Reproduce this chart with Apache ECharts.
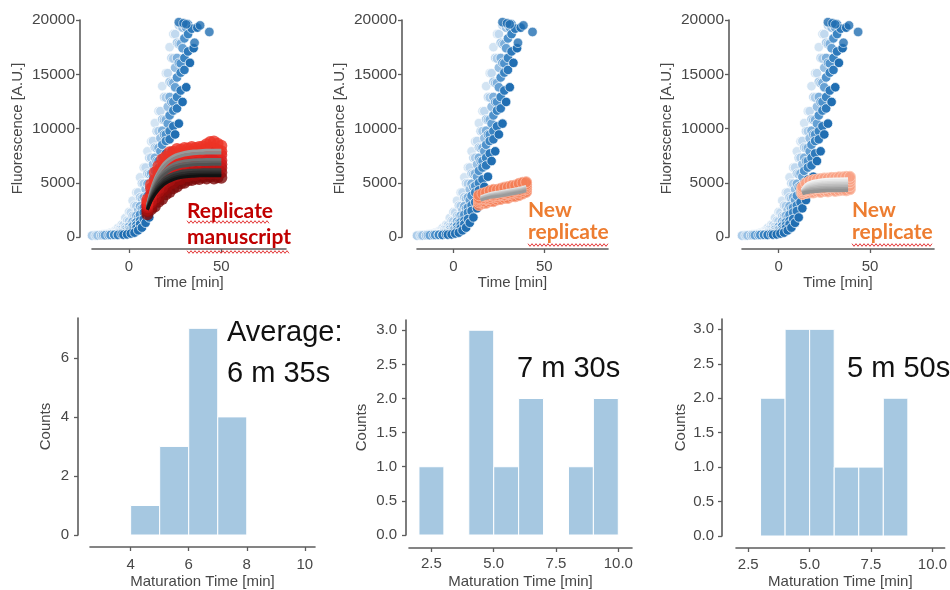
<!DOCTYPE html>
<html>
<head>
<meta charset="utf-8">
<script src="https://cdn.jsdelivr.net/npm/echarts@6/dist/echarts.min.js"></script>
<style>
  html, body { margin: 0; background: #fff; }
  #chart { width: 950px; height: 590px; }
</style>
</head>
<body>
<div id="chart"></div>
<script>
'use strict';

// ---- data ----

// reference kinetics (blue), one trace per replicate, sampled every 2 min from its start time
const blueStarts = [-20, -19, -20, -17, -14, -13, -10, -8, -6, -3];
const blueTraces = [
  [160, 150, 190, 250, 280, 400, 520, 820, 1120, 1750, 2300, 3350, 4100, 5500, 6400, 7900, 8800, 10500, 11600, 13900, 15100, 17500, 18700],
  [150, 160, 200, 220, 285, 345, 510, 700, 1090, 1500, 2250, 2900, 4100, 4950, 6400, 7300, 8850, 9750, 11600, 12900, 15100, 16500, 18700, 19500],
  [125, 135, 165, 180, 220, 250, 340, 440, 670, 930, 1450, 1950, 2850, 3650, 4900, 5850, 7300, 8250, 9750, 10850, 12850, 14300, 16450, 17900, 19600],
  [140, 150, 185, 200, 255, 300, 430, 580, 900, 1240, 1900, 2500, 3550, 4400, 5800, 6700, 8200, 9100, 10800, 12000, 14200, 15600, 17800, 19300],
  [170, 180, 225, 250, 345, 440, 665, 940, 1430, 1960, 2830, 3650, 4900, 5850, 7300, 8200, 9800, 10800, 12900, 14200, 16500, 17800, 19500],
  [160, 175, 215, 240, 320, 400, 610, 850, 1310, 1800, 2630, 3400, 4620, 5550, 7000, 7900, 9450, 10450, 12450, 13800, 16050, 17400, 19300],
  [190, 210, 270, 320, 460, 630, 990, 1360, 2060, 2700, 3800, 4700, 6100, 7000, 8500, 9450, 11200, 12450, 14700, 16000, 18300, 19600],
  [200, 220, 285, 345, 510, 700, 1090, 1500, 2250, 2920, 4100, 4980, 6400, 7300, 8850, 9750, 11650, 12900, 15150, 16500, 18700],
  [190, 245, 280, 390, 530, 800, 1170, 1650, 2400, 3200, 4300, 5300, 6600, 7700, 9000, 10200, 11850, 13500, 15400, 17100, 19200],
  [215, 240, 320, 400, 610, 860, 1310, 1800, 2640, 3400, 4620, 5560, 7000, 7900, 9450, 10450, 12450, 13800, 16050, 17400, 19300]
];
const blueExtra = [[27, 19800], [29.5, 19700], [31, 19600], [35.5, 17900], [38.5, 19500], [43.5, 18900]];
const blueColors = ['#d3e4f3', '#c1d9ef', '#adcdea', '#97bfe3', '#7eb0dc', '#66a1d4', '#4f92cc', '#3a84c2', '#2d79bb', '#206eb2'];

// replicate from the manuscript (red), t = 10..50 every 2 min
const redStart = 10;
const redTraces = [
  [2100, 2550, 2800, 3250, 3500, 3950, 4150, 4500, 4650, 4950, 5000, 5250, 5250, 5400, 5350, 5500, 5400, 5550, 5400, 5500, 5450],
  [2350, 2750, 3350, 3700, 4200, 4450, 4850, 5000, 5300, 5350, 5600, 5600, 5750, 5700, 5850, 5800, 5900, 5850, 5900, 5850, 5950],
  [2500, 3150, 3600, 4200, 4550, 5000, 5200, 5550, 5650, 5900, 5900, 6100, 6050, 6200, 6150, 6300, 6200, 6350, 6250, 6300, 6350],
  [2750, 3350, 4050, 4500, 5050, 5350, 5750, 5900, 6200, 6250, 6450, 6450, 6600, 6550, 6700, 6600, 6750, 6700, 6750, 6650, 6700],
  [2900, 3750, 4350, 5050, 5400, 5900, 6100, 6450, 6550, 6800, 6800, 7000, 6950, 7100, 7000, 7150, 7100, 7200, 7100, 7150, 7050],
  [3050, 3950, 4850, 5350, 5950, 6250, 6650, 6800, 7100, 7150, 7350, 7300, 7450, 7400, 7500, 7450, 7600, 7650, 7600, 7500, 7550],
  [3200, 4450, 5250, 6000, 6400, 6900, 7100, 7450, 7500, 7700, 7700, 7850, 7800, 7900, 7850, 8000, 8100, 8250, 8150, 8050, 7900],
  [3450, 4850, 5950, 6550, 7150, 7400, 7800, 7850, 8100, 8050, 8200, 8150, 8300, 8200, 8300, 8350, 8550, 8750, 8800, 8600, 8400]
];
const redColors = ['#7c0a0a', '#920d0d', '#a81111', '#bd1515', '#cf1a1a', '#dc1f1f', '#e5271f', '#ec3326'];
const redFitTimes = [10, 12, 14, 16, 18, 20, 23, 26, 30, 35, 40, 45, 50];
const redFits = [
  [2900, 4300, 5300, 6000, 6550, 6950, 7350, 7600, 7800, 7920, 7970, 8000, 8000],
  [2850, 4150, 5100, 5800, 6300, 6700, 7100, 7350, 7550, 7670, 7720, 7750, 7750],
  [2800, 3950, 4800, 5450, 5900, 6250, 6600, 6850, 7000, 7100, 7130, 7150, 7150],
  [2750, 3850, 4650, 5250, 5700, 6050, 6400, 6600, 6750, 6850, 6880, 6900, 6900],
  [2700, 3750, 4500, 5100, 5550, 5850, 6200, 6400, 6550, 6650, 6680, 6700, 6700],
  [2650, 3600, 4300, 4850, 5200, 5500, 5780, 5950, 6080, 6160, 6190, 6200, 6200],
  [2600, 3500, 4150, 4650, 5000, 5300, 5580, 5750, 5880, 5960, 5990, 6000, 6000],
  [2550, 3400, 4000, 4500, 4850, 5100, 5380, 5550, 5680, 5760, 5790, 5800, 5800],
  [2500, 3300, 3900, 4350, 4700, 4950, 5230, 5400, 5530, 5610, 5640, 5650, 5650]
];
const redFitColors = ['#9a9a9a', '#888888', '#727272', '#626262', '#525252', '#3e3e3e', '#2e2e2e', '#202020', '#121212'];

// new replicate, middle panel, t = 14..40 every 2 min
const newAStart = 14;
const newATraces = [
  [2950, 3100, 3150, 3300, 3300, 3450, 3500, 3600, 3600, 3750, 3750, 3850, 4000, 4150],
  [3200, 3300, 3500, 3500, 3650, 3700, 3850, 3850, 3950, 4000, 4100, 4100, 4250, 4400],
  [3350, 3550, 3550, 3700, 3800, 3850, 3950, 4050, 4050, 4150, 4250, 4300, 4450, 4550],
  [3500, 3600, 3750, 3900, 3900, 4050, 4150, 4150, 4250, 4350, 4350, 4500, 4600, 4700],
  [3600, 3800, 3850, 4050, 4100, 4150, 4200, 4300, 4400, 4400, 4550, 4650, 4700, 4850],
  [3850, 4000, 4100, 4250, 4350, 4350, 4450, 4550, 4600, 4700, 4750, 4900, 5000, 5050]
];
const newAFitTimes = [15, 20, 25, 30, 35, 40];
const newAFits = [
  [3700, 4000, 4150, 4300, 4450, 4650],
  [3600, 3900, 4050, 4200, 4350, 4550],
  [3550, 3800, 3950, 4100, 4250, 4450],
  [3450, 3700, 3850, 4000, 4150, 4350],
  [3400, 3650, 3750, 3900, 4050, 4250]
];
const newAFitColors = ['#e2e2e2', '#cbcbcb', '#b8b8b8', '#a9a9a9', '#9b9b9b'];

// new replicate, right panel, t = 13..39 every 2 min
const newBStart = 13;
const newBTraces = [
  [3950, 4050, 4100, 4100, 4200, 4150, 4250, 4200, 4300, 4250, 4300, 4350, 4300, 4400],
  [4150, 4300, 4350, 4450, 4500, 4550, 4500, 4600, 4600, 4650, 4650, 4700, 4750, 4700],
  [4300, 4500, 4650, 4700, 4800, 4800, 4850, 4900, 4900, 4950, 4950, 5000, 5000, 5050],
  [4450, 4750, 4900, 5000, 5050, 5100, 5150, 5150, 5200, 5200, 5250, 5250, 5300, 5300],
  [4600, 4950, 5150, 5250, 5300, 5350, 5400, 5400, 5450, 5450, 5500, 5500, 5550, 5550]
];
const newBFitTimes = [13, 15, 17, 20, 24, 28, 33, 38];
const newBFits = [
  [4350, 4800, 5000, 5150, 5250, 5300, 5330, 5350],
  [4300, 4700, 4880, 5020, 5110, 5160, 5180, 5200],
  [4250, 4600, 4760, 4880, 4970, 5010, 5030, 5050],
  [4200, 4500, 4640, 4750, 4830, 4870, 4890, 4900],
  [4150, 4400, 4520, 4610, 4690, 4720, 4740, 4750],
  [4100, 4300, 4400, 4480, 4540, 4570, 4590, 4600],
  [4050, 4200, 4280, 4340, 4400, 4420, 4440, 4450],
  [4000, 4100, 4160, 4210, 4260, 4280, 4290, 4300]
];
const newBFitColors = ['#f4f4f4', '#e8e8e8', '#dbdbdb', '#cecece', '#c0c0c0', '#b1b1b1', '#a2a2a2', '#939393'];

// maturation time histograms (bin start, bin end, count)
const histManuscript = [[4, 5, 1], [5, 6, 3], [6, 7, 7], [7, 8, 4]];
const histNewA = [[2, 3, 1], [4, 5, 3], [5, 6, 1], [6, 7, 2], [8, 9, 1], [9, 10, 2]];
const histNewB = [[3, 4, 2], [4, 5, 3], [5, 6, 3], [6, 7, 1], [7, 8, 1], [8, 9, 2]];

const timeTicks = [0, 50];
const fluoTicks = [0, 5000, 10000, 15000, 20000];
const countTicksA = [0, 2, 4, 6];
const countTicksB = [0, 0.5, 1, 1.5, 2, 2.5, 3];
const matTicksA = [4, 6, 8, 10];
const matTicksB = [2.5, 5, 7.5, 10];

// ---- layout ----
const font = 'Liberation Sans, Arial, sans-serif';
const axisColor = '#5c5c5c';
const labelColor = '#474747';

const grids = [
  { left: 92, top: 20, width: 194, height: 217 },
  { left: 417, top: 20, width: 191, height: 217 },
  { left: 742, top: 20, width: 192, height: 217 },
  { left: 90, top: 318, width: 225, height: 218 },
  { left: 409, top: 320, width: 223, height: 217 },
  { left: 736, top: 319, width: 211, height: 217 }
];

function makeAxis(o) {
  return {
    type: 'value',
    gridIndex: o.grid,
    min: o.min,
    max: o.max,
    offset: o.offset,
    name: o.name,
    nameLocation: 'middle',
    nameGap: o.gap,
    nameTextStyle: { color: labelColor, fontSize: 15, fontFamily: font },
    axisLine: { show: true, onZero: false, lineStyle: { color: axisColor, width: 1.6 } },
    axisTick: { show: true, length: 4, customValues: o.ticks, lineStyle: { color: axisColor, width: 1.3 } },
    axisLabel: {
      color: labelColor, fontSize: o.fontSize || 15, fontFamily: font, margin: o.margin,
      customValues: o.ticks, formatter: o.fmt
    },
    splitLine: { show: false }
  };
}

const fmt1 = v => v.toFixed(1);
const fmt0 = v => String(v);

const xAxes = [
  makeAxis({ grid: 0, min: -20, max: 85, offset: 12, name: 'Time [min]', gap: 26, margin: 10, ticks: timeTicks, fmt: fmt0 }),
  makeAxis({ grid: 1, min: -20, max: 85, offset: 12, name: 'Time [min]', gap: 26, margin: 10, ticks: timeTicks, fmt: fmt0 }),
  makeAxis({ grid: 2, min: -20, max: 85, offset: 12, name: 'Time [min]', gap: 26, margin: 10, ticks: timeTicks, fmt: fmt0 }),
  makeAxis({ grid: 3, min: 2.6, max: 10.35, offset: 12, name: 'Maturation Time [min]', gap: 27, margin: 10, ticks: matTicksA, fmt: fmt0 }),
  makeAxis({ grid: 4, min: 1.6, max: 10.55, offset: 13, name: 'Maturation Time [min]', gap: 26, margin: 8, ticks: matTicksB, fmt: fmt1 }),
  makeAxis({ grid: 5, min: 2.0, max: 10.5, offset: 12, name: 'Maturation Time [min]', gap: 26, margin: 9, ticks: matTicksB, fmt: fmt1 })
];
const yAxes = [
  makeAxis({ grid: 0, min: 0, max: 20000, offset: 12, name: 'Fluorescence [A.U.]', gap: 55, margin: 5, ticks: fluoTicks, fmt: fmt0, fontSize: 15.5 }),
  makeAxis({ grid: 1, min: 0, max: 20000, offset: 15, name: 'Fluorescence [A.U.]', gap: 55, margin: 5, ticks: fluoTicks, fmt: fmt0, fontSize: 15.5 }),
  makeAxis({ grid: 2, min: 0, max: 20000, offset: 13, name: 'Fluorescence [A.U.]', gap: 55, margin: 5, ticks: fluoTicks, fmt: fmt0, fontSize: 15.5 }),
  makeAxis({ grid: 3, min: 0, max: 7.35, offset: 12, name: 'Counts', gap: 25, margin: 9, ticks: countTicksA, fmt: fmt0 }),
  makeAxis({ grid: 4, min: 0, max: 3.15, offset: 3, name: 'Counts', gap: 37, margin: 9, ticks: countTicksB, fmt: fmt1 }),
  makeAxis({ grid: 5, min: 0, max: 3.15, offset: 14, name: 'Counts', gap: 34, margin: 8, ticks: countTicksB, fmt: fmt1 })
];

// ---- series ----
function pts(start, step, vals) {
  return vals.map((v, k) => [start + k * step, v]);
}
function pairs(times, vals) {
  return vals.map((v, k) => [times[k], v]);
}

const series = [];

[0, 1, 2].forEach(g => {
  blueTraces.forEach((vals, i) => {
    series.push({
      type: 'scatter', xAxisIndex: g, yAxisIndex: g, silent: true,
      data: pts(blueStarts[i], 2, vals), symbolSize: 9.5,
      itemStyle: { color: blueColors[i], borderColor: '#ffffff', borderWidth: 0.7, opacity: 1 }
    });
  });
  series.push({
    type: 'scatter', xAxisIndex: g, yAxisIndex: g, silent: true,
    data: blueExtra, symbolSize: 9.5,
    itemStyle: { color: blueColors[9], borderColor: '#ffffff', borderWidth: 0.7 }
  });
});

redTraces.forEach((vals, i) => {
  series.push({
    type: 'scatter', xAxisIndex: 0, yAxisIndex: 0, silent: true,
    data: pts(redStart, 2, vals), symbolSize: 12,
    itemStyle: { color: redColors[i], borderWidth: 0 }
  });
});
redFits.forEach((vals, i) => {
  series.push({
    type: 'line', xAxisIndex: 0, yAxisIndex: 0, silent: true, smooth: 0.5,
    showSymbol: false, data: pairs(redFitTimes, vals),
    lineStyle: { color: redFitColors[i], width: 3 }
  });
});

newATraces.forEach(vals => {
  series.push({
    type: 'scatter', xAxisIndex: 1, yAxisIndex: 1, silent: true,
    data: pts(newAStart, 2, vals), symbolSize: 11,
    itemStyle: { color: '#f47e57', borderColor: '#f9b39b', borderWidth: 1, opacity: 0.9 }
  });
});
newAFits.forEach((vals, i) => {
  series.push({
    type: 'line', xAxisIndex: 1, yAxisIndex: 1, silent: true, smooth: 0.5,
    showSymbol: false, data: pairs(newAFitTimes, vals),
    lineStyle: { color: newAFitColors[i], width: 3 }
  });
});

newBTraces.forEach(vals => {
  series.push({
    type: 'scatter', xAxisIndex: 2, yAxisIndex: 2, silent: true,
    data: pts(newBStart, 2, vals), symbolSize: 11,
    itemStyle: { color: '#f8a083', borderColor: '#fcc6b3', borderWidth: 1, opacity: 0.9 }
  });
});
newBFits.forEach((vals, i) => {
  series.push({
    type: 'line', xAxisIndex: 2, yAxisIndex: 2, silent: true, smooth: 0.5,
    showSymbol: false, data: pairs(newBFitTimes, vals),
    lineStyle: { color: newBFitColors[i], width: 3.5 }
  });
});

function histBars() {
  return function (params, api) {
    const p0 = api.coord([api.value(0), api.value(2)]);
    const p1 = api.coord([api.value(1), 0]);
    return {
      type: 'rect',
      shape: { x: p0[0], y: p0[1], width: p1[0] - p0[0], height: p1[1] - p0[1] },
      style: { fill: '#a6c8e1', stroke: '#ffffff', lineWidth: 1 }
    };
  };
}
[histManuscript, histNewA, histNewB].forEach((bins, i) => {
  series.push({
    type: 'custom', xAxisIndex: 3 + i, yAxisIndex: 3 + i, silent: true,
    data: bins, encode: { x: [0, 1], y: 2 }, renderItem: histBars()
  });
});

// ---- annotations ----
function wavy(x0, x1, y, color) {
  const p = [];
  for (let x = x0, k = 0; x <= x1; x += 2, k++) p.push([x, y + (k % 2 ? 1.3 : -1.3)]);
  return { type: 'polyline', silent: true, z: 100, shape: { points: p }, style: { stroke: color, lineWidth: 0.9, fill: null } };
}
function label(text, x, y, color, fnt) {
  return {
    type: 'text', silent: true, z: 100, x: x, y: y,
    style: { text: text, fill: color, font: fnt, textAlign: 'left', verticalAlign: 'middle' }
  };
}
const calloutFont = 'bold 21px Lato, "Open Sans", sans-serif';
const bigFont = '29px "Liberation Sans", Arial, sans-serif';
const graphic = [
  label('Replicate', 187, 211, '#c00000', calloutFont),
  label('manuscript', 187, 237, '#c00000', calloutFont),
  wavy(187, 270, 222, '#e02020'),
  wavy(187, 290, 252, '#e02020'),
  label('New', 528, 210, '#ed7d31', calloutFont),
  label('replicate', 528, 232, '#ed7d31', calloutFont),
  wavy(528, 608, 245, '#e02020'),
  label('New', 852, 210, '#ed7d31', calloutFont),
  label('replicate', 852, 232, '#ed7d31', calloutFont),
  wavy(852, 932, 245, '#e02020'),
  label('Average:', 227, 333, '#111', bigFont),
  label('6 m 35s', 227, 374, '#111', bigFont),
  label('7 m 30s', 517, 369, '#111', bigFont),
  label('5 m 50s', 847, 369, '#111', bigFont)
];

const chart = echarts.init(document.getElementById('chart'), null, { renderer: 'canvas' });
chart.setOption({
  animation: false,
  backgroundColor: '#ffffff',
  grid: grids,
  xAxis: xAxes,
  yAxis: yAxes,
  series: series,
  graphic: graphic
});
</script>
</body>
</html>
